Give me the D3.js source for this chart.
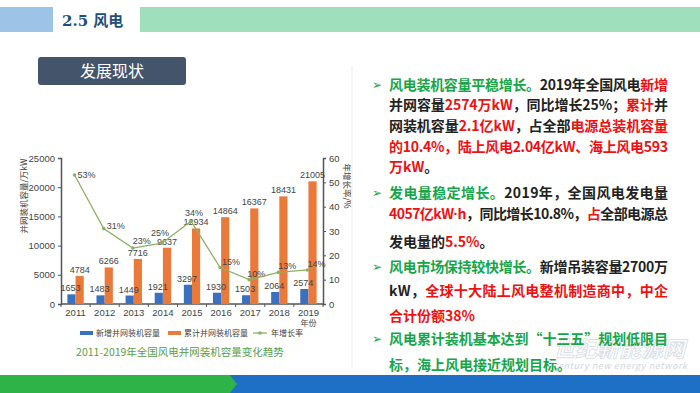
<!DOCTYPE html>
<html>
<head>
<meta charset="utf-8">
<script src="https://cdn.jsdelivr.net/npm/d3@7"></script>
<style>
    html, body { margin: 0; padding: 0; background: #fff; }
    svg { display: block; }
    text { font-family: "Noto Sans CJK SC", "Noto Sans", sans-serif; }
    .num { font-family: "Liberation Sans Narrow", "Liberation Sans", Arial, sans-serif; }
</style>
</head>
<body>
<script>
// chart data
var years = ['2011', '2012', '2013', '2014', '2015', '2016', '2017', '2018', '2019'];
var newCapacity = [1653, 1483, 1449, 1921, 3297, 1930, 1503, 2064, 2574];
var totalCapacity = [4784, 6266, 7716, 9637, 12934, 14864, 16367, 18431, 21005];
var growthRate = [53, 31, 23, 25, 34, 15, 10, 13, 14];
var leftTicks = [0, 5000, 10000, 15000, 20000, 25000];
var rightTicks = [0, 10, 20, 30, 40, 50, 60];
var seriesNames = ['新增并网装机容量', '累计并网装机容量', '年增长率'];

var BLUE = '#3a70c0';
var ORANGE = '#ea7a3a';
var LINE = '#8eb062';
var GREEN = '#16a64a';
var RED = '#f01010';
var DARK = '#222';

function drawPage() {
    var width = 700;
    var height = 393;

    var svg = d3.select('body').append('svg')
        .attr('width', width)
        .attr('height', height);

    // header strip
    svg.append('rect').attr('x', 0).attr('y', 7).attr('width', 53).attr('height', 25).attr('fill', '#9dc3e6');
    svg.append('rect').attr('x', 140).attr('y', 7).attr('width', 560).attr('height', 25).attr('fill', '#9fdfbb');
    svg.append('text')
        .attr('x', 62).attr('y', 26)
        .style('font-family', '"DejaVu Serif", "Noto Sans CJK SC", serif')
        .style('font-size', '15px')
        .style('font-weight', 'bold')
        .attr('fill', '#1f4e79')
        .text('2.5 风电');

    // button
    svg.append('rect').attr('x', 38).attr('y', 57).attr('width', 148).attr('height', 28).attr('rx', 3)
        .attr('fill', '#44546a');
    svg.append('text')
        .attr('x', 112).attr('y', 77)
        .attr('text-anchor', 'middle')
        .style('font-size', '16px')
        .attr('fill', '#fff')
        .text('发展现状');

    // bottom band
    svg.append('rect').attr('x', 0).attr('y', 375).attr('width', 700).attr('height', 18).attr('fill', '#1e6fc6');
    svg.append('path').attr('d', 'M0,375 L230,375 L237,384 L230,393 L0,393 Z').attr('fill', '#2db348');

    drawChart(svg);
    drawText(svg);
}

function drawChart(svg) {
    var left = 61, right = 323, top = 158, bottom = 304;

    var x = d3.scaleBand().domain(years).range([left, right]);
    var sub = d3.scaleBand().domain([0, 1]).range([0, x.bandwidth()]).paddingOuter(0.78);
    var yL = d3.scaleLinear().domain([0, 25000]).range([bottom, top]);
    var yR = d3.scaleLinear().domain([0, 60]).range([bottom, top]);

    var axisColor = '#555';

    var gl = svg.append('g')
        .attr('transform', 'translate(' + left + ',0)')
        .call(d3.axisLeft(yL).tickValues(leftTicks).tickSize(3).tickFormat(d3.format('d')));
    var gr = svg.append('g')
        .attr('transform', 'translate(' + right + ',0)')
        .call(d3.axisRight(yR).tickValues(rightTicks).tickSize(3));
    var gb = svg.append('g')
        .attr('transform', 'translate(0,' + bottom + ')')
        .call(d3.axisBottom(x).tickSize(0).tickPadding(5));

    [gl, gr, gb].forEach(function(g) {
        g.select('.domain').attr('stroke', axisColor).attr('stroke-width', 1.5);
        g.selectAll('.tick line').attr('stroke', axisColor);
        g.selectAll('text')
            .attr('class', 'num')
            .style('font-size', '9.5px')
            .attr('fill', '#444');
    });
    gb.select('.domain').attr('d', 'M' + left + ',0H' + right);

    // category boundary ticks
    var bounds = years.map(function(d) { return x(d); }).concat([x.range()[1]]);
    svg.append('g').selectAll('line')
        .data(bounds)
        .enter().append('line')
            .attr('x1', function(d) { return d; })
            .attr('x2', function(d) { return d; })
            .attr('y1', bottom)
            .attr('y2', bottom + 3)
            .attr('stroke', axisColor);

    // bars
    var bars = svg.append('g');
    bars.selectAll('.b-new')
        .data(newCapacity)
        .enter().append('rect')
            .attr('x', function(d, i) { return x(years[i]) + sub(0); })
            .attr('y', function(d) { return yL(d); })
            .attr('width', sub.bandwidth())
            .attr('height', function(d) { return bottom - yL(d); })
            .attr('fill', BLUE);
    bars.selectAll('.b-tot')
        .data(totalCapacity)
        .enter().append('rect')
            .attr('x', function(d, i) { return x(years[i]) + sub(1); })
            .attr('y', function(d) { return yL(d); })
            .attr('width', sub.bandwidth())
            .attr('height', function(d) { return bottom - yL(d); })
            .attr('fill', ORANGE);

    var lbl = svg.append('g').attr('class', 'num').style('font-size', '9px').attr('fill', '#444');
    lbl.selectAll('.l-new')
        .data(newCapacity)
        .enter().append('text')
            .attr('class', 'num')
            .attr('x', function(d, i) { return x(years[i]) + sub(0) + sub.bandwidth() / 2 - 1; })
            .attr('y', function(d) { return yL(d) - 3; })
            .attr('text-anchor', 'middle')
            .text(function(d) { return d; });
    lbl.selectAll('.l-tot')
        .data(totalCapacity)
        .enter().append('text')
            .attr('class', 'num')
            .attr('x', function(d, i) { return x(years[i]) + sub(1) + sub.bandwidth() / 2; })
            .attr('y', function(d) { return yL(d) - 3; })
            .attr('text-anchor', 'middle')
            .text(function(d) { return d; });

    // growth line
    var cx = function(d, i) { return x(years[i]) + x.bandwidth() / 2 - 1; };
    var line = d3.line()
        .x(cx)
        .y(function(d) { return yR(d); });
    svg.append('path')
        .datum(growthRate)
        .attr('d', line)
        .attr('fill', 'none')
        .attr('stroke', LINE)
        .attr('stroke-width', 1.3);
    svg.append('g').selectAll('circle')
        .data(growthRate)
        .enter().append('circle')
            .attr('cx', cx)
            .attr('cy', function(d) { return yR(d); })
            .attr('r', 1.8)
            .attr('fill', LINE);

    // label nudges for the rate labels
    var rateDx = [3, 3, 0, -11, -6, 2, -2, 0, 0];
    var rateDy = [3, 0, -4, -7, -5, -3, -3, -3, -3];
    lbl.selectAll('.l-rate')
        .data(growthRate)
        .enter().append('text')
            .attr('class', 'num')
            .attr('x', function(d, i) { return cx(d, i) + rateDx[i]; })
            .attr('y', function(d, i) { return yR(d) + rateDy[i]; })
            .text(function(d) { return d + '%'; });

    // axis titles
    svg.append('text')
        .attr('transform', 'translate(27,196) rotate(-90)')
        .attr('text-anchor', 'middle')
        .style('font-size', '8.5px')
        .attr('fill', '#444')
        .text('并网装机容量/万kW');
    svg.append('text')
        .attr('transform', 'translate(344,186) rotate(90)')
        .attr('text-anchor', 'middle')
        .style('font-size', '8.5px')
        .attr('fill', '#444')
        .text('年增长率/%');
    svg.append('text')
        .attr('x', x('2019') + x.bandwidth() / 2)
        .attr('y', 326)
        .attr('text-anchor', 'middle')
        .style('font-size', '8px')
        .attr('fill', '#444')
        .text('年份');

    // legend
    var lg = svg.append('g').style('font-size', '8px').attr('fill', '#444');
    lg.append('rect').attr('x', 80).attr('y', 331).attr('width', 13).attr('height', 4).attr('fill', BLUE);
    lg.append('text').attr('x', 96).attr('y', 336).text(seriesNames[0]);
    lg.append('rect').attr('x', 168).attr('y', 331).attr('width', 13).attr('height', 4).attr('fill', ORANGE);
    lg.append('text').attr('x', 184).attr('y', 336).text(seriesNames[1]);
    lg.append('line').attr('x1', 253).attr('x2', 267).attr('y1', 333).attr('y2', 333).attr('stroke', LINE).attr('stroke-width', 1.3);
    lg.append('circle').attr('cx', 260).attr('cy', 333).attr('r', 1.8).attr('fill', LINE);
    lg.append('text').attr('x', 271).attr('y', 336).text(seriesNames[2]);

    svg.append('text')
        .attr('x', 180).attr('y', 356)
        .attr('text-anchor', 'middle')
        .style('font-size', '10.5px')
        .attr('fill', '#5aa046')
        .text('2011-2019年全国风电并网装机容量变化趋势');
}

function drawText(svg) {
    var tx = 389, tw = 279;

    // faint box edge
    svg.append('line').attr('x1', 352).attr('x2', 352).attr('y1', 66).attr('y2', 368)
        .attr('stroke', '#ececec');

    // watermark
    svg.append('text')
        .attr('x', 553).attr('y', 357)
        .style('font-size', '22px').style('font-style', 'italic').style('font-weight', 'bold')
        .attr('fill', 'none').attr('stroke', '#d6dde6').attr('stroke-width', 0.8)
        .text('世纪新能源网');
    svg.append('text')
        .attr('x', 553).attr('y', 369)
        .attr('textLength', 134)
        .style('font-size', '9px').style('font-style', 'italic')
        .attr('fill', '#d0d6de')
        .text('century new energy network');

    // [baseline, justified, bullet, segments]
    var lines = [
        [90, true, true, [['g', '风电装机容量平稳增长。'], ['k', '2019年全国风电'], ['r', '新增']]],
        [110, true, false, [['k', '并网容量'], ['r', '2574万kW'], ['k', '，同比增长25%；'], ['r', '累计'], ['k', '并']]],
        [131, true, false, [['k', '网装机容量'], ['r', '2.1亿kW'], ['k', '，占全部'], ['r', '电源总装机容量']]],
        [152, true, false, [['r', '的10.4%，陆上风电2.04亿kW、海上风电593']]],
        [172, false, false, [['r', '万kW'], ['k', '。']]],
        [198, true, true, [['g', '发电量稳定增长。'], ['k', '2019年，全国风电发电量']]],
        [219, true, false, [['r', '4057亿kW'], ['r', '·', 'Liberation Sans'], ['r', 'h'], ['k', '，同比增长10.8%，'], ['r', '占'], ['k', '全部电源总']]],
        [247, false, false, [['k', '发电量的'], ['r', '5.5%'], ['k', '。']]],
        [272, true, true, [['g', '风电市场保持较快增长。'], ['k', '新增吊装容量2700万']]],
        [296, true, false, [['k', 'kW，'], ['r', '全球十大陆上风电整机制造商中，中企']]],
        [321, false, false, [['r', '合计份额38%']]],
        [344, true, true, [['g', '风电累计装机基本达到“十三五”规划低限目']]],
        [370, false, false, [['g', '标，海上风电接近规划目标。']]]
    ];
    var colors = {g: GREEN, r: RED, k: DARK};

    lines.forEach(function(ln) {
        var t = svg.append('text')
            .attr('x', tx).attr('y', ln[0])
            .style('font-size', '14px')
            .style('font-weight', 'bold');
        if (ln[1]) {
            t.attr('textLength', tw).attr('lengthAdjust', 'spacing');
        }
        ln[3].forEach(function(seg) {
            var s = t.append('tspan').attr('fill', colors[seg[0]]).text(seg[1]);
            if (seg[2]) {
                s.style('font-family', seg[2]);
            }
        });
        if (ln[2]) {
            svg.append('text')
                .attr('x', 372).attr('y', ln[0] - 1)
                .style('font-family', '"DejaVu Sans", sans-serif')
                .style('font-size', '12px')
                .attr('fill', GREEN)
                .text('➢');
        }
    });
}

drawPage();
</script>
</body>
</html>
